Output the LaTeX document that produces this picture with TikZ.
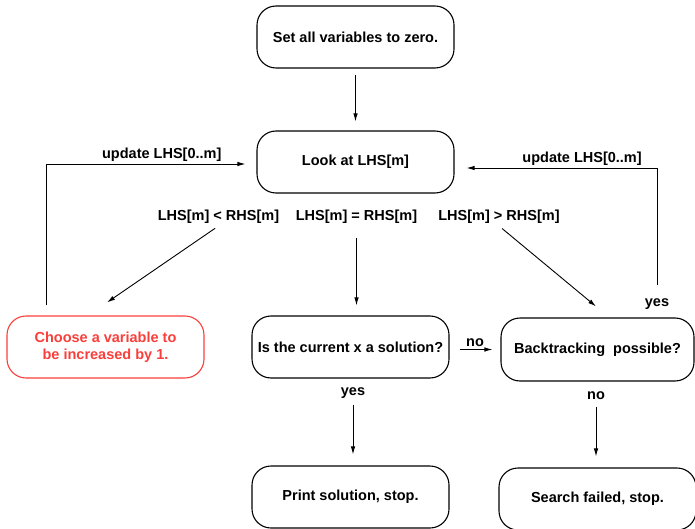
\documentclass[tikz,border=0pt]{standalone}
\usepackage{fontspec}
\setmainfont{Liberation Sans}
\usepackage{xcolor}
\usetikzlibrary{positioning, arrows.meta, calc}
\definecolor{choosered}{RGB}{250,62,58}

\begin{document}
\begin{tikzpicture}[
    x=1pt, y=-1pt,
    >={Latex[length=8pt, width=4.5pt]},
    box/.style={rectangle, draw=black, rounded corners=19pt, line width=1.1pt,
                minimum width=197pt, minimum height=62pt, align=center,
                font=\fontsize{14.5}{17}\selectfont\bfseries},
    rbox/.style={box, draw=choosered, text=choosered},
    arrow/.style={->, line width=0.9pt, black},
    elabel/.style={font=\fontsize{14.5}{17}\selectfont\bfseries, inner sep=2pt},
]
\useasboundingbox (0,0) rectangle (695,529);

% === start ===
\node[box] (set) at (355.5, 37) {Set all variables to zero.};
\node[box] (look) at (355.5, 162) {Look at LHS[m]};
\draw[arrow, shorten <=6pt, shorten >=9pt] (set) -- (look);

% === comparison labels ===
\node[elabel] (lt) at (218.5, 217) {LHS[m] < RHS[m]};
\node[elabel] (eq) at (356.5, 217) {LHS[m] = RHS[m]};
\node[elabel] (gt) at (499, 217) {LHS[m] > RHS[m]};

% === second row ===
\node[rbox] (choose) at (105.5, 347) {Choose a variable to\\be increased by 1.};
\node[box] (issol) at (350.5, 347) {Is the current x a solution?};
\node[box, minimum width=193pt, minimum height=63pt] (back) at (597.5, 349.5)
    {Backtracking\ \ possible?};

% === end states ===
\node[box] (print) at (350.5, 497) {Print solution, stop.};
\node[box] (search) at (597.5, 499) {Search failed, stop.};

% comparison branches
\draw[arrow, shorten <=4pt] (lt.south) -- ([xshift=1.5pt, yshift=13pt]choose.north);
\draw[arrow, shorten <=12pt, shorten >=10pt] (eq.south) -- (eq.south |- issol.north);
\draw[arrow, shorten <=4pt] (gt.south) -- ([xshift=-1.5pt, yshift=11pt]back.north);

% loops back to LHS[m]
\draw[arrow, shorten >=11pt] ([xshift=-59.5pt, yshift=10pt]choose.north) |- ([yshift=-2pt]look.west)
    node[pos=0.775, above, elabel] {update LHS[0..m]};
\node[elabel] (yesb) at (657, 304) {yes};
\draw[arrow, shorten <=11pt, shorten >=12pt] (yesb.north) |- ([yshift=-6pt]look.east)
    node[pos=0.685, above, elabel] {update LHS[0..m]};

% decisions
\draw[arrow, shorten <=10pt, shorten >=8pt] (issol.east |- back.west) -- (back.west)
    node[midway, above, elabel] {no};
\draw[arrow, shorten <=26pt, shorten >=11pt] (issol.south -| 353, 0) -- (print.north -| 353, 0)
    node[pos=0.17, elabel] {yes};
\draw[arrow, shorten <=25pt, shorten >=11pt] (back.south -| 596, 0) -- (search.north -| 596, 0)
    node[pos=0.17, elabel] {no};

\end{tikzpicture}
\end{document}
